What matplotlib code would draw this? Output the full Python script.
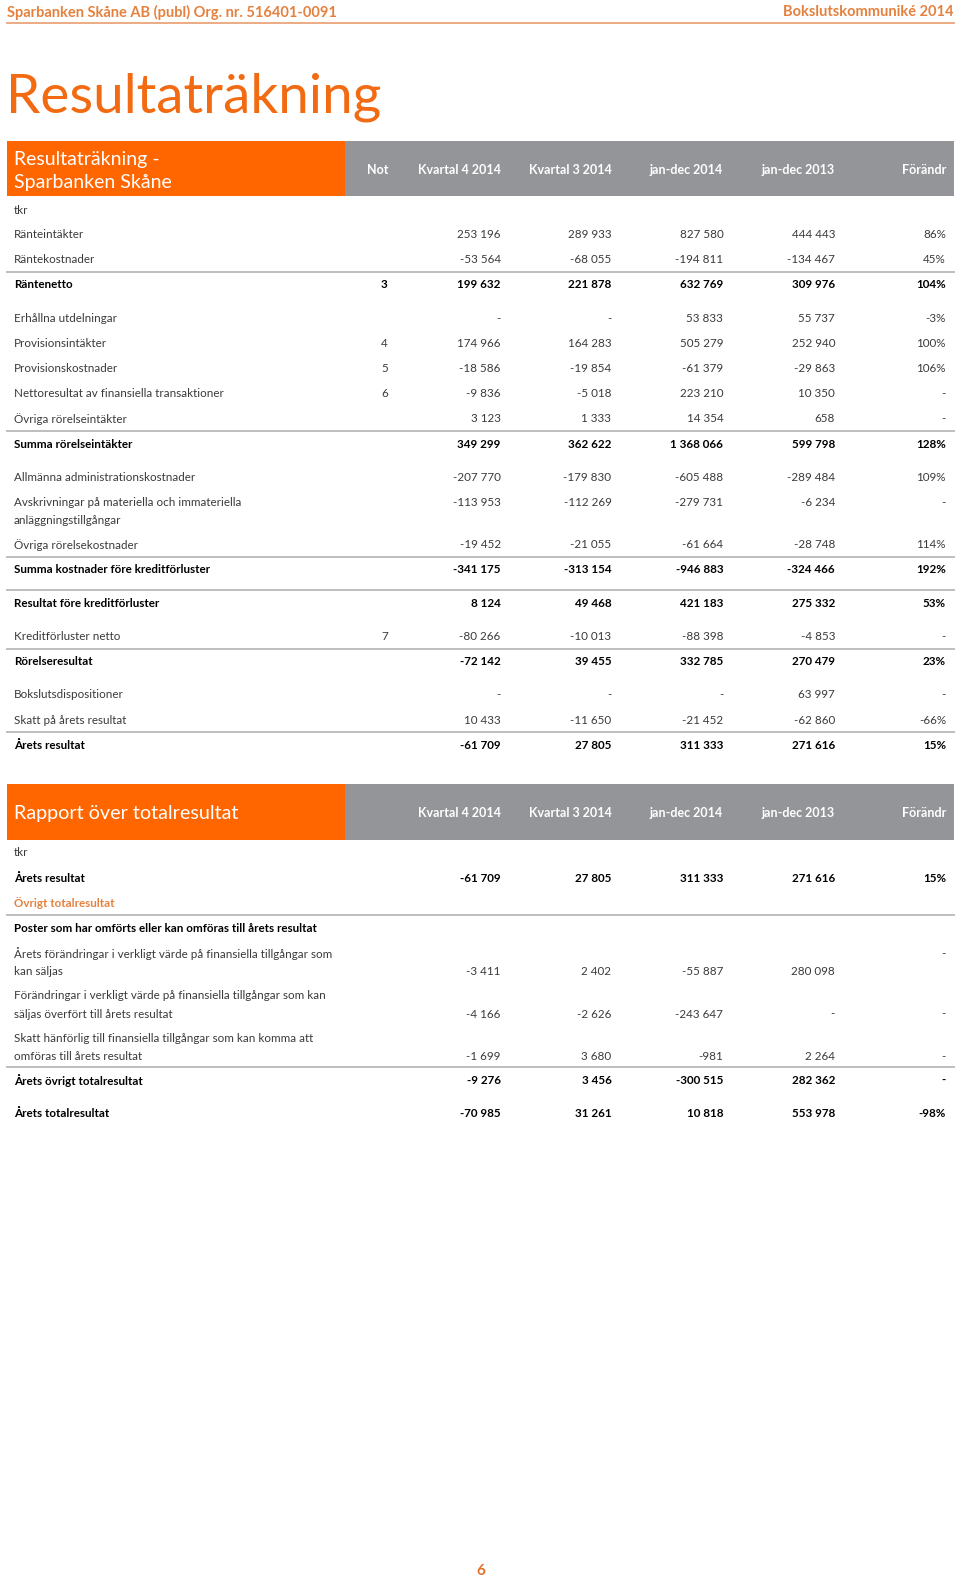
import matplotlib
matplotlib.use("Agg")
import matplotlib.pyplot as plt
from matplotlib.patches import Rectangle

plt.rcParams['font.family'] = ['Lato', 'DejaVu Sans']

# ---- data: Resultaträkning ----
labels1 = ["tkr", "Ränteintäkter", "Räntekostnader", "Räntenetto", "Erhållna utdelningar",
           "Provisionsintäkter", "Provisionskostnader", "Nettoresultat av finansiella transaktioner",
           "Övriga rörelseintäkter", "Summa rörelseintäkter", "Allmänna administrationskostnader",
           "Avskrivningar på materiella och immateriella\nanläggningstillgångar",
           "Övriga rörelsekostnader", "Summa kostnader före kreditförluster",
           "Resultat före kreditförluster", "Kreditförluster netto", "Rörelseresultat",
           "Bokslutsdispositioner", "Skatt på årets resultat", "Årets resultat"]
not1 = ["", "", "", "3", "", "4", "5", "6", "", "", "", "", "", "", "", "7", "", "", "", ""]
q4_2014 = ["", "253 196", "-53 564", "199 632", "-", "174 966", "-18 586", "-9 836", "3 123",
           "349 299", "-207 770", "-113 953", "-19 452", "-341 175", "8 124", "-80 266",
           "-72 142", "-", "10 433", "-61 709"]
q3_2014 = ["", "289 933", "-68 055", "221 878", "-", "164 283", "-19 854", "-5 018", "1 333",
           "362 622", "-179 830", "-112 269", "-21 055", "-313 154", "49 468", "-10 013",
           "39 455", "-", "-11 650", "27 805"]
jd_2014 = ["", "827 580", "-194 811", "632 769", "53 833", "505 279", "-61 379", "223 210",
           "14 354", "1 368 066", "-605 488", "-279 731", "-61 664", "-946 883", "421 183",
           "-88 398", "332 785", "-", "-21 452", "311 333"]
jd_2013 = ["", "444 443", "-134 467", "309 976", "55 737", "252 940", "-29 863", "10 350",
           "658", "599 798", "-289 484", "-6 234", "-28 748", "-324 466", "275 332", "-4 853",
           "270 479", "63 997", "-62 860", "271 616"]
chg1 = ["", "86%", "45%", "104%", "-3%", "100%", "106%", "-", "-", "128%", "109%", "-",
        "114%", "192%", "53%", "-", "23%", "-", "-66%", "15%"]
bold1 = {3, 9, 13, 14, 16, 19}

# ---- data: Rapport över totalresultat ----
labels2 = ["tkr", "Årets resultat", "Övrigt totalresultat",
           "Poster som har omförts eller kan omföras till årets resultat",
           "Årets förändringar i verkligt värde på finansiella tillgångar som\nkan säljas",
           "Förändringar i verkligt värde på finansiella tillgångar som kan\nsäljas överfört till årets resultat",
           "Skatt hänförlig till finansiella tillgångar som kan komma att\nomföras till årets resultat",
           "Årets övrigt totalresultat", "Årets totalresultat"]
q4_2014_t = ["", "-61 709", "", "", "-3 411", "-4 166", "-1 699", "-9 276", "-70 985"]
q3_2014_t = ["", "27 805", "", "", "2 402", "-2 626", "3 680", "3 456", "31 261"]
jd_2014_t = ["", "311 333", "", "", "-55 887", "-243 647", "-981", "-300 515", "10 818"]
jd_2013_t = ["", "271 616", "", "", "280 098", "-", "2 264", "282 362", "553 978"]
chg2 = ["", "15%", "", "", "-", "-", "-", "-", "-98%"]
bold2 = {1, 3, 7, 8}

col_heads = ["Kvartal 4 2014", "Kvartal 3 2014", "jan-dec 2014", "jan-dec 2013", "Förändr"]

# ---- layout (pixel coords of the page) ----
W, H = 953, 1568
ORANGE = "#FF6600"
GREY = "#939598"
RULE = "#BEBEBE"
TXT = "#3a3a3a"
FS = 8.4
col_x = [497, 607, 718, 829, 939]
not_x = 386
x0, x1 = 7, 947
dy = 1  # small baseline nudge for the row texts

y1 = [208, 232, 257, 282, 315, 340, 365, 390, 415, 440, 473, 498, 540, 565, 598, 631,
      656, 689, 714, 739]
rules1 = [270, 428, 553, 586, 644, 727]
y2 = [846, 871, 896, 921, 946, 988, 1030, 1072, 1105]
rules2 = [909, 1060]

fig = plt.figure(figsize=(9.6, 15.79), dpi=100)
ax = fig.add_axes([0, 0, 1, 1])
ax.set_xlim(0, W)
ax.set_ylim(H, 0)
ax.axis("off")

# page header
ax.text(7, 12, "Sparbanken Skåne AB (publ) Org. nr. 516401-0091", color="#E4813F",
        fontsize=10.5, fontweight="bold", va="center", ha="left")
ax.text(947, 12, "Bokslutskommuniké 2014", color="#E4813F",
        fontsize=10.5, fontweight="bold", va="center", ha="right")
ax.plot([x0, x1], [23, 23], color="#EBA478", lw=1.3)
ax.text(6, 97, "Resultaträkning", color="#F26A12", fontsize=39.5, va="center", ha="left")


def band(ytop, ybot, title_lines, with_not):
    ax.add_patch(Rectangle((x0, ytop), 342 - x0, ybot - ytop, color=ORANGE, lw=0))
    ax.add_patch(Rectangle((342, ytop), x1 - 342, ybot - ytop, color=GREY, lw=0))
    ym = (ytop + ybot) / 2
    if len(title_lines) == 1:
        ax.text(14, ym + 1, title_lines[0], color="white", fontsize=14.2, va="center")
    else:
        ax.text(14, ym - 9, title_lines[0], color="white", fontsize=14, va="center")
        ax.text(14, ym + 14, title_lines[1], color="white", fontsize=14, va="center")
    if with_not:
        ax.text(not_x, ym + 1, "Not", color="white", fontsize=9, fontweight="bold",
                ha="right", va="center")
    for x, h in zip(col_x, col_heads):
        ax.text(x, ym + 1, h, color="white", fontsize=9, fontweight="bold",
                ha="right", va="center")


def label(y, s, bold, color=None):
    for k, part in enumerate(s.split("\n")):
        ax.text(14, y + dy + 18 * k, part, fontsize=FS, va="center", ha="left",
                color=color or ("black" if bold else TXT),
                fontweight="bold" if bold else "normal")


# table 1
band(140, 195, ["Resultaträkning -", "Sparbanken Skåne"], True)
cols1 = [q4_2014, q3_2014, jd_2014, jd_2013, chg1]
for i, lab in enumerate(labels1):
    b = i in bold1
    y = y1[i]
    label(y, lab, b)
    w = "bold" if b else "normal"
    c = "black" if b else TXT
    if not1[i]:
        ax.text(not_x - 1, y + dy, not1[i], fontsize=FS, ha="right", va="center",
                color=c, fontweight=w)
    for x, col in zip(col_x, cols1):
        ax.text(x, y + dy, col[i], fontsize=FS, ha="right", va="center", color=c, fontweight=w)
for r in rules1:
    ax.plot([x0, x1], [r, r], color=RULE, lw=1.4)

# table 2
band(779, 834, ["Rapport över totalresultat"], False)
cols2 = [q4_2014_t, q3_2014_t, jd_2014_t, jd_2013_t, chg2]
for i, lab in enumerate(labels2):
    b = i in bold2
    y = y2[i]
    if i == 2:
        label(y, lab, True, color="#E4813F")
    else:
        label(y, lab, b)
    w = "bold" if b else "normal"
    c = "black" if b else TXT
    two = "\n" in lab
    for j, (x, col) in enumerate(zip(col_x, cols2)):
        yy = y + 18 if two and not (i == 4 and j == 4) else y
        ax.text(x, yy + dy, col[i], fontsize=FS, ha="right", va="center", color=c, fontweight=w)
for r in rules2:
    ax.plot([x0, x1], [r, r], color=RULE, lw=1.4)

# page number
ax.text(477, 1560, "6", color="#E4702A", fontsize=11, fontweight="bold",
        ha="center", va="center")

fig.savefig("out.png", dpi=100)
